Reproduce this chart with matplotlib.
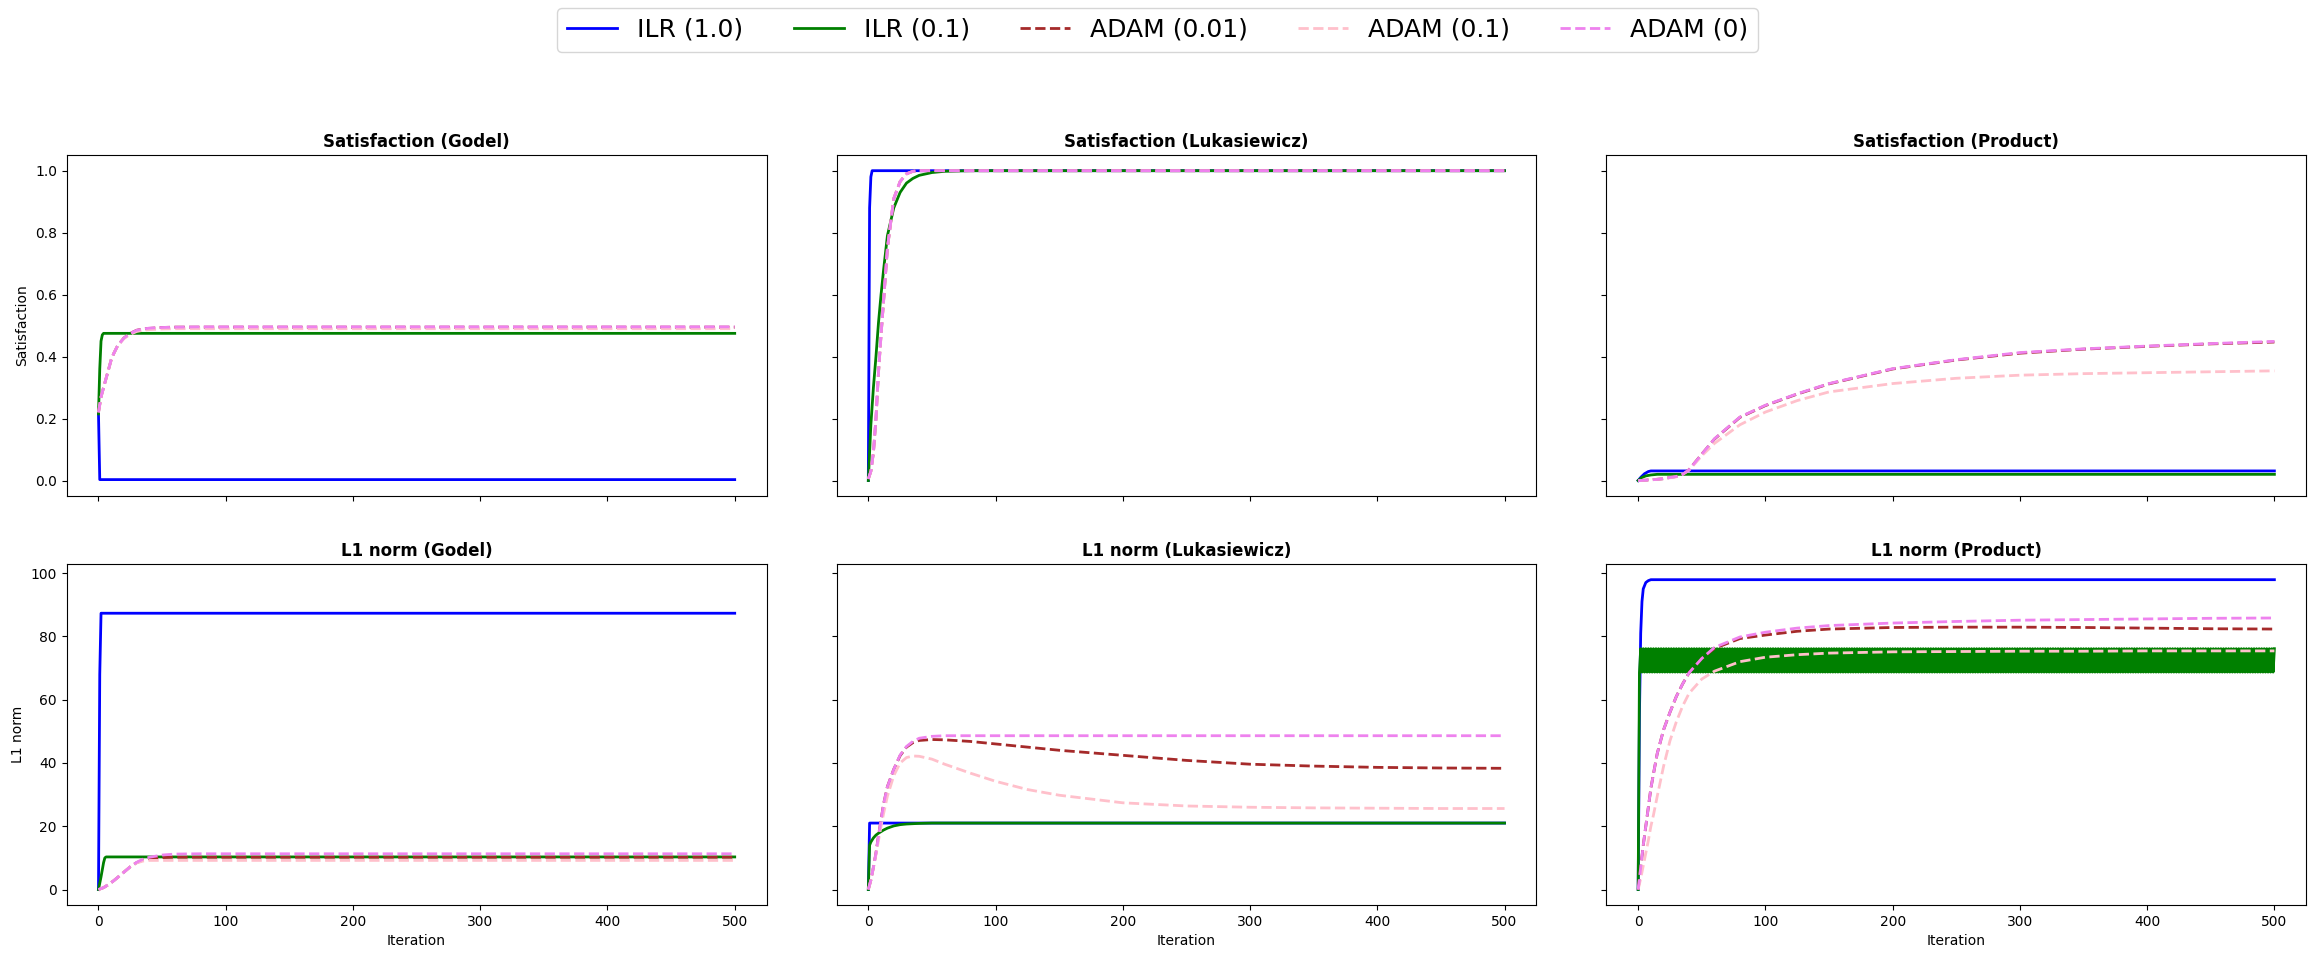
import numpy as np
import matplotlib
matplotlib.use("Agg")
import matplotlib.pyplot as plt

# common iteration grid for the smooth ADAM curves
iters = [0, 2, 4, 6, 8, 10, 12, 15, 20, 25, 30, 35, 40, 50, 60, 80,
         100, 125, 150, 200, 250, 300, 350, 400, 450, 500]

labels = ["ILR (1.0)", "ILR (0.1)", "ADAM (0.01)", "ADAM (0.1)", "ADAM (0)"]
colors = ["blue", "green", "brown", "pink", "violet"]
styles = ["-", "-", "--", "--", "--"]

# ---- Satisfaction (Godel)
g_sat_ilr1_it = [0, 1, 500]
g_sat_ilr1 = [0.215, 0.003, 0.003]
g_sat_ilr01_it = [0, 1, 2, 3, 4, 500]
g_sat_ilr01 = [0.215, 0.36, 0.45, 0.47, 0.475, 0.475]
g_sat_adam001 = [0.22, 0.27, 0.3, 0.33, 0.36, 0.39, 0.41, 0.435, 0.46, 0.475, 0.485, 0.489, 0.491,
                 0.494, 0.495, 0.495, 0.495, 0.495, 0.495, 0.495, 0.495, 0.495, 0.495, 0.495, 0.495, 0.495]
g_sat_adam01 = [0.22, 0.27, 0.3, 0.33, 0.36, 0.39, 0.41, 0.435, 0.458, 0.472, 0.481, 0.485, 0.487,
                0.489, 0.49, 0.49, 0.49, 0.49, 0.49, 0.49, 0.49, 0.49, 0.49, 0.49, 0.49, 0.49]
g_sat_adam0 = [0.22, 0.27, 0.3, 0.33, 0.36, 0.39, 0.41, 0.435, 0.46, 0.475, 0.485, 0.489, 0.492,
               0.494, 0.495, 0.496, 0.496, 0.496, 0.496, 0.496, 0.496, 0.496, 0.496, 0.496, 0.496, 0.496]

# ---- Satisfaction (Lukasiewicz)
l_sat_ilr1_it = [0, 1, 2, 3, 500]
l_sat_ilr1 = [0.0, 0.88, 0.98, 1.0, 1.0]
l_sat_ilr01 = [0.0, 0.18, 0.3, 0.4, 0.51, 0.6, 0.68, 0.79, 0.88, 0.93, 0.96, 0.975, 0.985,
               0.994, 0.998, 1.0, 1.0, 1.0, 1.0, 1.0, 1.0, 1.0, 1.0, 1.0, 1.0, 1.0]
l_sat_adam001 = [0.005, 0.03, 0.09, 0.2, 0.35, 0.47, 0.58, 0.75, 0.91, 0.965, 0.99, 0.998, 1.0,
                 1.0, 1.0, 1.0, 1.0, 1.0, 1.0, 1.0, 1.0, 1.0, 1.0, 1.0, 1.0, 1.0]
l_sat_adam01 = [0.005, 0.03, 0.09, 0.2, 0.35, 0.47, 0.58, 0.75, 0.91, 0.965, 0.99, 0.998, 1.0,
                1.0, 1.0, 1.0, 1.0, 1.0, 1.0, 1.0, 1.0, 1.0, 1.0, 1.0, 1.0, 1.0]
l_sat_adam0 = [0.005, 0.03, 0.09, 0.2, 0.35, 0.47, 0.58, 0.75, 0.91, 0.965, 0.99, 0.998, 1.0,
               1.0, 1.0, 1.0, 1.0, 1.0, 1.0, 1.0, 1.0, 1.0, 1.0, 1.0, 1.0, 1.0]

# ---- Satisfaction (Product)
p_sat_ilr1_it = [0, 2, 5, 8, 10, 500]
p_sat_ilr1 = [0.0, 0.01, 0.022, 0.029, 0.031, 0.031]
p_sat_ilr01_it = [0, 3, 6, 10, 15, 500]
p_sat_ilr01 = [0.0, 0.01, 0.015, 0.018, 0.02, 0.02]
p_sat_adam001 = [0.0, 0.0, 0.001, 0.001, 0.002, 0.002, 0.003, 0.004, 0.006, 0.01, 0.013, 0.02, 0.035,
                 0.085, 0.134, 0.204, 0.242, 0.279, 0.312, 0.36, 0.389, 0.411, 0.424, 0.433, 0.441, 0.447]
p_sat_adam01 = [0.0, 0.0, 0.001, 0.001, 0.002, 0.002, 0.003, 0.004, 0.006, 0.009, 0.012, 0.02, 0.033,
                0.08, 0.12, 0.18, 0.221, 0.258, 0.286, 0.313, 0.33, 0.34, 0.345, 0.348, 0.351, 0.354]
p_sat_adam0 = [0.0, 0.0, 0.001, 0.001, 0.002, 0.002, 0.003, 0.004, 0.006, 0.01, 0.013, 0.02, 0.035,
               0.085, 0.135, 0.205, 0.243, 0.28, 0.313, 0.361, 0.39, 0.413, 0.425, 0.434, 0.442, 0.449]

# ---- L1 norm (Godel)
g_l1_ilr1_it = [0, 1, 2, 500]
g_l1_ilr1 = [0.0, 68.0, 87.3, 87.3]
g_l1_ilr01_it = [0, 2, 4, 5, 6, 500]
g_l1_ilr01 = [0.0, 4.0, 8.5, 10.0, 10.3, 10.3]
g_l1_adam001 = [0.0, 0.3, 0.6, 1.1, 1.6, 2.2, 2.8, 3.8, 5.5, 7.2, 8.5, 9.3, 9.8,
                10.1, 10.2, 10.2, 10.2, 10.2, 10.2, 10.2, 10.2, 10.2, 10.2, 10.2, 10.2, 10.2]
g_l1_adam01 = [0.0, 0.3, 0.6, 1.1, 1.6, 2.2, 2.8, 3.8, 5.5, 7.2, 8.4, 9.0, 9.2,
               9.2, 9.2, 9.2, 9.2, 9.2, 9.2, 9.2, 9.2, 9.2, 9.2, 9.2, 9.2, 9.2]
g_l1_adam0 = [0.0, 0.3, 0.6, 1.1, 1.6, 2.2, 2.8, 3.8, 5.5, 7.2, 8.6, 9.6, 10.2,
              10.9, 11.2, 11.3, 11.3, 11.3, 11.3, 11.3, 11.3, 11.3, 11.3, 11.3, 11.3, 11.3]

# ---- L1 norm (Lukasiewicz)
l_l1_ilr1_it = [0, 1, 500]
l_l1_ilr1 = [0.0, 21.0, 21.0]
l_l1_ilr01_it = [0, 1, 2, 4, 6, 8, 10, 12, 15, 20, 25, 30, 35, 40, 50, 500]
l_l1_ilr01 = [0.0, 14.0, 15.0, 16.3, 17.2, 17.8, 18.3, 18.8, 19.4, 20.1, 20.5, 20.7, 20.8, 20.9, 21.0, 21.0]
l_l1_adam001 = [0.0, 3.0, 7.0, 11.5, 17.0, 22.0, 27.0, 32.5, 38.0, 42.3, 45.0, 46.4, 47.1,
                47.4, 47.3, 46.8, 46.0, 45.0, 44.0, 42.4, 40.8, 39.6, 39.0, 38.6, 38.4, 38.3]
l_l1_adam01 = [0.0, 3.0, 7.0, 11.0, 15.5, 20.0, 24.0, 29.5, 36.0, 40.0, 41.7, 42.2, 42.1,
               41.2, 39.6, 36.8, 34.2, 31.6, 29.8, 27.4, 26.4, 26.0, 25.8, 25.7, 25.6, 25.6]
l_l1_adam0 = [0.0, 3.0, 7.0, 11.5, 17.0, 22.0, 27.0, 32.5, 38.0, 42.5, 45.2, 46.8, 47.8,
              48.4, 48.6, 48.6, 48.6, 48.6, 48.6, 48.6, 48.6, 48.6, 48.6, 48.6, 48.6, 48.6]

# ---- L1 norm (Product)
p_l1_ilr1_it = [0, 1, 2, 3, 4, 6, 8, 10, 500]
p_l1_ilr1 = [0.0, 55.0, 81.0, 91.0, 95.0, 97.0, 97.6, 97.9, 97.9]
p_l1_ilr01_start = [0.0, 68.5]      # iterations 0 and 1
p_l1_ilr01_hi = 76.1                # then it flips between these two every step
p_l1_ilr01_lo = 68.7
p_l1_adam001 = [0.0, 7.0, 14.0, 20.0, 26.0, 32.0, 36.5, 43.0, 50.5, 56.0, 61.0, 65.0, 68.5,
                73.0, 76.2, 79.3, 80.4, 81.6, 82.3, 82.8, 82.9, 82.9, 82.8, 82.6, 82.4, 82.3]
p_l1_adam01 = [0.0, 3.5, 7.5, 11.5, 15.5, 20.0, 23.5, 29.5, 39.0, 47.0, 53.0, 58.0, 62.0,
               66.5, 69.0, 72.0, 73.4, 74.2, 74.7, 75.1, 75.2, 75.3, 75.3, 75.4, 75.4, 75.4]
p_l1_adam0 = [0.0, 7.0, 14.0, 20.0, 26.0, 32.0, 36.5, 43.0, 50.5, 56.0, 61.0, 65.0, 68.5,
              73.0, 76.5, 79.8, 81.3, 82.6, 83.4, 84.2, 84.7, 85.1, 85.3, 85.5, 85.7, 85.8]

p_l1_ilr01_it = list(range(0, 501))
p_l1_ilr01 = p_l1_ilr01_start + [p_l1_ilr01_hi, p_l1_ilr01_lo] * 249 + [p_l1_ilr01_hi]

panels = [
    ("Satisfaction (Godel)", [(g_sat_ilr1_it, g_sat_ilr1), (g_sat_ilr01_it, g_sat_ilr01),
                              (iters, g_sat_adam001), (iters, g_sat_adam01), (iters, g_sat_adam0)]),
    ("Satisfaction (Lukasiewicz)", [(l_sat_ilr1_it, l_sat_ilr1), (iters, l_sat_ilr01),
                                    (iters, l_sat_adam001), (iters, l_sat_adam01), (iters, l_sat_adam0)]),
    ("Satisfaction (Product)", [(p_sat_ilr1_it, p_sat_ilr1), (p_sat_ilr01_it, p_sat_ilr01),
                                (iters, p_sat_adam001), (iters, p_sat_adam01), (iters, p_sat_adam0)]),
    ("L1 norm (Godel)", [(g_l1_ilr1_it, g_l1_ilr1), (g_l1_ilr01_it, g_l1_ilr01),
                         (iters, g_l1_adam001), (iters, g_l1_adam01), (iters, g_l1_adam0)]),
    ("L1 norm (Lukasiewicz)", [(l_l1_ilr1_it, l_l1_ilr1), (l_l1_ilr01_it, l_l1_ilr01),
                               (iters, l_l1_adam001), (iters, l_l1_adam01), (iters, l_l1_adam0)]),
    ("L1 norm (Product)", [(p_l1_ilr1_it, p_l1_ilr1), (p_l1_ilr01_it, p_l1_ilr01),
                           (iters, p_l1_adam001), (iters, p_l1_adam01), (iters, p_l1_adam0)]),
]

fig = plt.figure(figsize=(23.15, 9.58), dpi=100)
axes = fig.subplots(2, 3, sharex=True, sharey="row")
fig.subplots_adjust(left=0.0288, right=0.9962, bottom=0.0553, top=0.838,
                    wspace=0.1, hspace=0.2)

for ax, (title, series) in zip(axes.flat, panels):
    for (xs, ys), lab, col, ls in zip(series, labels, colors, styles):
        ax.plot(xs, ys, ls, color=col, lw=2, label=lab)
    ax.set_title(title, fontweight="bold")

axes[0, 0].set_ylabel("Satisfaction")
axes[1, 0].set_ylabel("L1 norm")
for ax in axes[1]:
    ax.set_xlabel("Iteration")

handles, labs = axes[0, 0].get_legend_handles_labels()
fig.legend(handles, labs, loc="upper center", ncol=5, fontsize=18,
           bbox_to_anchor=(0.5, 1.0), borderaxespad=0.3)

fig.savefig("out.png", dpi=100)
